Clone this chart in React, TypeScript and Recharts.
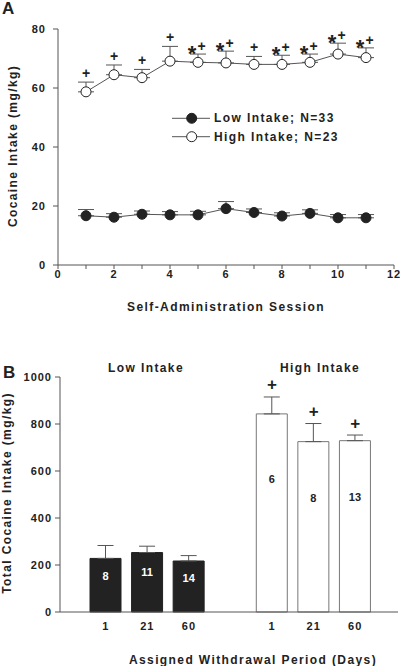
import React from 'react';
import {
  LineChart, Line, ComposedChart, Bar, Cell, XAxis, YAxis,
  ErrorBar, LabelList,
} from 'recharts';

// panel A: intake per self-administration session
const sessions = [1, 2, 3, 4, 5, 6, 7, 8, 9, 10, 11];
const lowMean = [16.7, 16.2, 17.2, 17.0, 17.0, 19.1, 17.8, 16.6, 17.5, 16.0, 16.0];
const lowUpper = [18.8, 17.4, 18.3, 18.1, 18.2, 21.5, 19.0, 17.7, 18.7, 17.1, 17.1];
const highMean = [58.7, 64.5, 63.5, 69.1, 68.7, 68.5, 68.0, 68.0, 68.7, 71.5, 70.3];
const highUpper = [62.0, 67.8, 66.3, 74.1, 71.5, 72.5, 70.7, 71.1, 71.5, 75.2, 73.6];
const highMarks = ['+', '+', '+', '+', '*+', '*+', '+', '*+', '*+', '*+', '*+'];
const sessionTicks = [0, 1, 2, 3, 4, 5, 6, 7, 8, 9, 10, 11, 12];
const intakeTicks = [0, 20, 40, 60, 80];
const legendRows = ['Low Intake; N=33', 'High Intake; N=23'];

// panel B: total intake by assigned withdrawal period
const slots = ['L1', 'L21', 'L60', 'gap', 'H1', 'H21', 'H60'];
const days = ['1', '21', '60', '', '1', '21', '60'];
const totals = [228, 253, 217, null, 843, 725, 729];
const totalUpper = [283, 280, 240, null, 915, 802, 753];
const nRats = ['8', '11', '14', '', '6', '8', '13'];
const groups = ['low', 'low', 'low', 'gap', 'high', 'high', 'high'];
const barMarks = ['', '', '', '', '+', '+', '+'];
const totalTicks = [0, 200, 400, 600, 800, 1000];

const sessionData = sessions.map((s, i) => ({
  session: s,
  low: lowMean[i],
  lowErr: [0, +(lowUpper[i] - lowMean[i]).toFixed(2)],
  high: highMean[i],
  highErr: [0, +(highUpper[i] - highMean[i]).toFixed(2)],
  highTop: highUpper[i],
  mark: highMarks[i],
}));

const totalData = slots.map((id, i) => ({
  id,
  day: days[i],
  total: totals[i],
  err: totals[i] == null ? null : [0, (totalUpper[i] as number) - (totals[i] as number)],
  upper: totalUpper[i],
  nLow: groups[i] === 'low' ? nRats[i] : '',
  nHigh: groups[i] === 'high' ? nRats[i] : '',
  mark: barMarks[i],
}));

const FONT = '"Liberation Sans", Arial, sans-serif';
const INK = '#222';
const GREY = '#555';
const tick = { fontSize: 11, fontWeight: 700, fill: INK, letterSpacing: 1, fontFamily: FONT };
const title = { fontSize: 12, fontWeight: 700, fill: INK, letterSpacing: 1.4, fontFamily: FONT } as const;

const SigMark = (p: any) => {
  const m = p.value;
  if (!m) return null;
  if (m === '+') {
    return (
      <text x={p.x} y={p.y - 4} textAnchor="middle" fontSize={14} fontWeight={700} fill={INK} fontFamily={FONT}>+</text>
    );
  }
  return (
    <g>
      <text x={p.x - 6} y={p.y + 7} textAnchor="middle" fontSize={22} fontWeight={700} fill={INK} fontFamily={FONT}>*</text>
      <text x={p.x + 3.5} y={p.y - 3} textAnchor="middle" fontSize={14} fontWeight={700} fill={INK} fontFamily={FONT}>+</text>
    </g>
  );
};

const nLabel = (color: string) => (p: any) => {
  if (!p.value) return null;
  return (
    <text
      x={p.x + p.width / 2}
      y={p.y + p.height * 0.33}
      textAnchor="middle"
      dominantBaseline="central"
      fontSize={11}
      fontWeight={700}
      fill={color}
      fontFamily={FONT}
    >
      {p.value}
    </text>
  );
};

const BarMark = (p: any) => {
  if (!p.value) return null;
  return (
    <text x={p.x} y={p.y - 12} textAnchor="middle" dominantBaseline="central" fontSize={17} fontWeight={700} fill={INK} fontFamily={FONT}>
      {p.value}
    </text>
  );
};

export default function App() {
  return (
    <div style={{ position: 'absolute', left: 0, top: 0, width: 400, height: 666, background: '#fff', fontFamily: FONT }}>
      <div style={{ position: 'absolute', left: 0, top: 0 }}>
        <LineChart width={400} height={320} data={sessionData} margin={{ top: 29, right: 6, left: 0, bottom: 25 }}>
          <XAxis
            dataKey="session"
            type="number"
            domain={[0, 12]}
            ticks={sessionTicks}
            interval={0}
            tickFormatter={v => (v % 2 === 0 ? String(v) : '')}
            tick={tick}
            tickSize={4}
            tickMargin={1}
            height={30}
            stroke={GREY}
          />
          <YAxis
            domain={[0, 80]}
            ticks={intakeTicks}
            tick={tick}
            tickSize={5}
            tickMargin={7}
            width={58}
            stroke={GREY}
          />
          <Line dataKey="low" stroke={GREY} strokeWidth={1} isAnimationActive={false}
            dot={{ r: 5, fill: INK, stroke: INK, strokeWidth: 1 }} activeDot={false}>
            <ErrorBar dataKey="lowErr" direction="y" width={8} stroke={GREY} strokeWidth={1} />
          </Line>
          <Line dataKey="high" stroke={GREY} strokeWidth={1} isAnimationActive={false}
            dot={{ r: 5, fill: '#fff', stroke: INK, strokeWidth: 1 }} activeDot={false}>
            <ErrorBar dataKey="highErr" direction="y" width={8} stroke={GREY} strokeWidth={1} />
          </Line>
          <Line dataKey="highTop" stroke="none" dot={false} activeDot={false} legendType="none" isAnimationActive={false}>
            <LabelList dataKey="mark" content={SigMark} />
          </Line>
          {legendRows.map((label, i) => (
            <g key={label}>
              <line x1={172} y1={118.3 + i * 18.4} x2={210} y2={118.3 + i * 18.4} stroke={GREY} strokeWidth={1} />
              <circle cx={191.7} cy={118.3 + i * 18.4} r={5} fill={i === 0 ? INK : '#fff'} stroke={INK} strokeWidth={1} />
              <text x={214} y={118.3 + i * 18.4} dominantBaseline="central" {...title}>{label}</text>
            </g>
          ))}
          <text x={2} y={14} fontSize={17} fontWeight={700} fill={INK} fontFamily={FONT}>A</text>
          <text x={12.5} y={146} transform="rotate(-90 12.5 146)" textAnchor="middle" dominantBaseline="central" {...title}>
            Cocaine Intake (mg/kg)
          </text>
          <text x={226} y={307} textAnchor="middle" dominantBaseline="central" {...title}>
            Self-Administration Session
          </text>
        </LineChart>
      </div>
      <div style={{ position: 'absolute', left: 0, top: 330 }}>
        <ComposedChart width={400} height={336} data={totalData} margin={{ top: 47, right: 2, left: 0, bottom: 24 }}>
          <XAxis
            dataKey="id"
            interval={0}
            tickFormatter={(v, i) => days[i] ?? ''}
            tick={tick}
            tickLine={false}
            tickSize={0}
            tickMargin={10}
            padding={{ left: 25, right: 22 }}
            height={30}
            stroke={GREY}
          />
          <YAxis
            domain={[0, 1000]}
            ticks={totalTicks}
            tick={tick}
            tickSize={5}
            tickMargin={3}
            width={60}
            stroke={GREY}
          />
          <Bar dataKey="total" barSize={31} isAnimationActive={false}>
            {totalData.map((d, i) => (
              <Cell
                key={d.id}
                fill={groups[i] === 'low' ? INK : '#fff'}
                stroke={groups[i] === 'low' ? INK : '#777'}
                strokeWidth={1}
              />
            ))}
            <ErrorBar dataKey="err" direction="y" width={8} stroke={GREY} strokeWidth={1} />
            <LabelList dataKey="nLow" content={nLabel('#fff')} />
            <LabelList dataKey="nHigh" content={nLabel(INK)} />
          </Bar>
          <Line dataKey="upper" stroke="none" dot={false} activeDot={false} legendType="none" isAnimationActive={false}>
            <LabelList dataKey="mark" content={BarMark} />
          </Line>
          <text x={3} y={48} fontSize={17} fontWeight={700} fill={INK} fontFamily={FONT}>B</text>
          <text x={146} y={38} textAnchor="middle" dominantBaseline="central" {...title}>Low Intake</text>
          <text x={320} y={38} textAnchor="middle" dominantBaseline="central" {...title}>High Intake</text>
          <text x={6.5} y={163} transform="rotate(-90 6.5 163)" textAnchor="middle" dominantBaseline="central" {...title}>
            Total Cocaine Intake (mg/kg)
          </text>
          <text x={253} y={330} textAnchor="middle" dominantBaseline="central" {...title}>
            Assigned Withdrawal Period (Days)
          </text>
        </ComposedChart>
      </div>
    </div>
  );
}
